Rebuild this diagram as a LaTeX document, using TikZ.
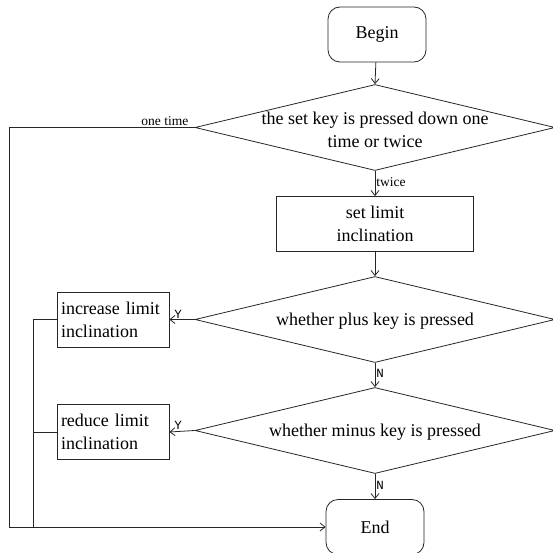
\documentclass[tikz,border=0pt]{standalone}
\usepackage{fontspec}
\setmainfont{Liberation Serif}
\setmonofont{Liberation Mono}
\usetikzlibrary{shapes.geometric,arrows.meta}
\begin{document}
\begin{tikzpicture}[x=1pt,y=-1pt,
  line width=0.8pt, draw=black!85,
  every node/.style={font=\fontsize{18}{23}\selectfont},
  term/.style={draw, rounded corners=12pt, minimum width=98pt, minimum height=55pt, inner sep=0pt},
  proc/.style={draw, minimum height=55pt, inner sep=0pt, align=left},
  dec/.style={draw, diamond, minimum width=360pt, minimum height=86pt, inner sep=0pt},
  small/.style={font=\fontsize{13.5}{15}\selectfont, inner sep=1pt},
  yn/.style={font=\ttfamily\fontsize{12.5}{14}\selectfont, inner sep=1pt},
  arr/.style={-{Straight Barb[length=5pt,width=8pt]}}
]
\useasboundingbox (0,0) rectangle (553,553);

\node[term] (begin) at (377,34.5) {Begin};
\node[dec, label={[align=center, yshift=-2pt]center:the set key is pressed down one\\time or twice}] (d1) at (375,127.5) {};
\node[proc, minimum width=197pt, align=center] (set) at (375,224) {set limit\\inclination};
\node[dec, label={[yshift=-2pt]center:whether plus key is pressed}] (d2) at (375,319.5) {};
\node[proc, minimum width=112pt, text width=104pt] (inc) at (113,319.5) {increase limit\\inclination};
\node[dec, label={[yshift=-2pt]center:whether minus key is pressed}] (d3) at (375,430.5) {};
\node[proc, minimum width=112pt, text width=104pt] (red) at (113,432) {reduce limit\\inclination};
\node[term] (end) at (375,527) {End};

\coordinate (oc) at (9,127.5);
\coordinate (ib) at (33,527);
\coordinate (ob) at (9,527);

\draw[arr] (begin) -- (d1.north);
\draw[arr] (d1.south) -- node[small, right, pos=0.45] {twice} (set.north);
\draw[arr] (set) -- (d2.north);
\draw[arr] (d2.west) -- node[yn, above, pos=0.5, xshift=-4pt] {Y} (inc.east);
\draw[arr] (d2.south) -- node[yn, right, pos=0.45] {N} (d3.north);
\draw[arr] (d3.west) -- node[yn, above, pos=0.5, xshift=-4pt] {Y} (red.east);
\draw[arr] (d3.south) -- node[yn, right, pos=0.45] {N} (end.north);

\draw (d1.west) -- node[small, above, pos=0.16] {one time} (oc) -- (ob);
\draw[arr] (ob) -- (end.west);
\draw (inc.west) -| (ib);
\draw (red.west) -- (red.west -| ib);
\end{tikzpicture}
\end{document}
